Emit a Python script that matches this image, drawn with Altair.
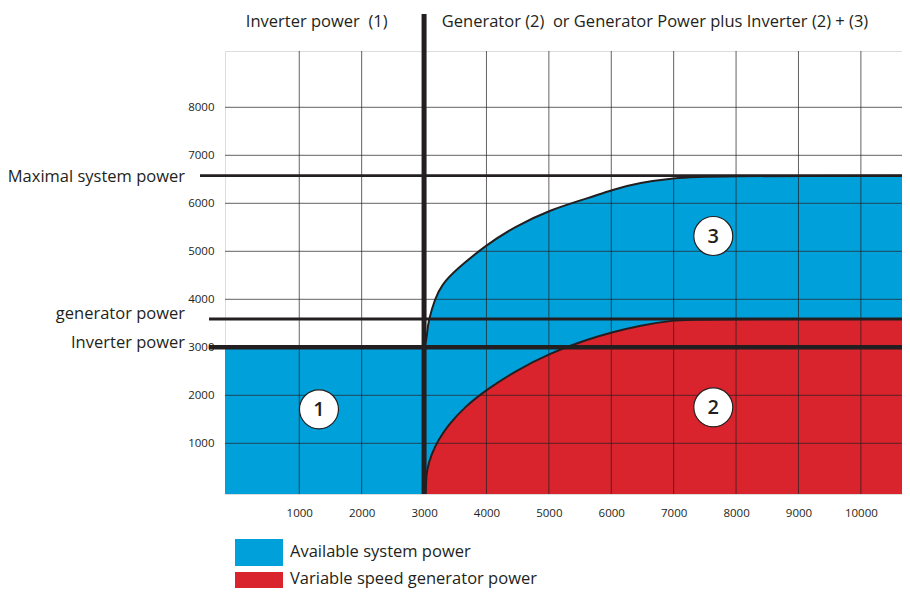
import altair as alt
import pandas as pd

# ---------------- data ----------------
x_ticks = [1000, 2000, 3000, 4000, 5000, 6000, 7000, 8000, 9000, 10000]
y_ticks = [1000, 2000, 3000, 4000, 5000, 6000, 7000, 8000]

# Variable speed generator power (red area, curve 2)
red_x = [3025, 3032, 3041, 3122, 3228, 3388, 3655, 4003, 4457, 5006, 5659, 6006, 6460, 6994, 7400, 11000]
red_y = [-56, 170, 443, 791, 1069, 1381, 1763, 2120, 2500, 2875, 3180, 3310, 3455, 3565, 3590, 3590]

# Available system power (blue area, inverter (1) + curve 3)
blue_x = [-500, 2900, 3025, 3051, 3067, 3175, 3282, 3495, 4003, 4457, 5006, 5659, 6006, 6460, 6994, 7529, 11000]
blue_y = [3000, 3000, 3000, 3325, 3533, 4021, 4298, 4600, 5140, 5513, 5860, 6120, 6280, 6430, 6525, 6570, 6575]

inverter_power = 3000
generator_power = 3590
max_power = 6575
inverter_x = 3000

circle_labels = ["1", "2", "3"]
circle_x = [1316, 7635, 7635]
circle_y = [1708, 1750, 5319]

legend_labels = ["Available system power", "Variable speed generator power"]
title_left = "Inverter power \u00a0(1)"
title_right = "Generator (2) \u00a0or Generator Power plus Inverter (2) + (3)"
level_labels = ["Maximal system power", "generator power", "Inverter power"]

# ---------------- layout / style ----------------
X_DOMAIN = [-190, 10659]
Y_DOMAIN = [-56, 9173]
W, H = 677, 443
BLUE = "#00A1DB"
RED = "#D9232D"
INK = "#231F20"
FONT = "Open Sans"
FS = 16.5

xs = alt.Scale(domain=X_DOMAIN, nice=False, zero=False)
ys = alt.Scale(domain=Y_DOMAIN, nice=False, zero=False)
x_axis = alt.Axis(values=x_ticks, format="d", grid=False, ticks=False, domain=False, title=None,
                  labelFont=FONT, labelFontSize=11.5, labelColor=INK, labelPadding=13)
y_axis = alt.Axis(values=y_ticks, format="d", grid=False, ticks=False, domain=False, title=None,
                  labelFont=FONT, labelFontSize=11.5, labelColor=INK, labelPadding=11)


def X(f):
    return alt.X(f"{f}:Q", scale=xs, axis=x_axis)


def Y(f):
    return alt.Y(f"{f}:Q", scale=ys, axis=y_axis)


blue_df = pd.DataFrame({"x": blue_x, "y": blue_y})
red_df = pd.DataFrame({"x": red_x, "y": red_y})
one = pd.DataFrame({"a": [0]})
INTERP = "basis"

blue_area = alt.Chart(blue_df).mark_area(color=BLUE, interpolate=INTERP, clip=True).encode(
    x=X("x"), y=Y("y"), y2=alt.datum(Y_DOMAIN[0]))
red_area = alt.Chart(red_df).mark_area(color=RED, interpolate=INTERP, clip=True).encode(
    x=X("x"), y=Y("y"), y2=alt.datum(Y_DOMAIN[0]))

vgrid = alt.Chart(pd.DataFrame({"x": x_ticks})).mark_rule(color=INK, strokeWidth=1, opacity=0.7).encode(x=X("x"))
hgrid = alt.Chart(pd.DataFrame({"y": y_ticks})).mark_rule(color=INK, strokeWidth=1, opacity=0.7).encode(y=Y("y"))

blue_line = alt.Chart(blue_df[blue_df.x >= 2900]).mark_line(color=INK, strokeWidth=2, interpolate=INTERP, clip=True).encode(
    x=X("x"), y=Y("y"))
red_line = alt.Chart(red_df).mark_line(color=INK, strokeWidth=2, interpolate=INTERP, clip=True).encode(
    x=X("x"), y=Y("y"))

max_line = alt.Chart(pd.DataFrame({"y": [max_power]})).mark_rule(color=INK, strokeWidth=2.7).encode(
    y=Y("y"), x=alt.value(-25), x2=alt.value(W))
gen_line = alt.Chart(pd.DataFrame({"y": [generator_power]})).mark_rule(color=INK, strokeWidth=3).encode(
    y=Y("y"), x=alt.value(-16), x2=alt.value(W))
inv_line = alt.Chart(pd.DataFrame({"y": [inverter_power]})).mark_rule(color=INK, strokeWidth=4.6).encode(
    y=Y("y"), x=alt.value(-16), x2=alt.value(W))
v_line = alt.Chart(pd.DataFrame({"x": [inverter_x]})).mark_rule(color=INK, strokeWidth=5).encode(
    x=X("x"), y=alt.value(-37), y2=alt.value(H))

circ_df = pd.DataFrame({"x": circle_x, "y": circle_y, "t": circle_labels})
circles = alt.Chart(circ_df).mark_point(shape="circle", filled=True, color="white", stroke=INK,
                                       strokeWidth=1.2, size=1521, opacity=1).encode(x=X("x"), y=Y("y"))
circle_text = alt.Chart(circ_df).mark_text(font=FONT, fontSize=20, fontWeight=600, color=INK,
                                           baseline="middle", dy=1).encode(
    x=X("x"), y=Y("y"), text="t:N")

lvl_max = alt.Chart(pd.DataFrame({"y": [max_power]})).mark_text(
    text=level_labels[0], font=FONT, fontSize=FS, color=INK, align="right", baseline="middle", dy=1).encode(
    y=Y("y"), x=alt.value(-40))
lvl_gen = alt.Chart(pd.DataFrame({"y": [generator_power]})).mark_text(
    text=level_labels[1], font=FONT, fontSize=FS, color=INK, align="right", baseline="middle", dy=-5).encode(
    y=Y("y"), x=alt.value(-40))
lvl_inv = alt.Chart(pd.DataFrame({"y": [inverter_power]})).mark_text(
    text=level_labels[2], font=FONT, fontSize=FS, color=INK, align="right", baseline="middle", dy=-4).encode(
    y=Y("y"), x=alt.value(-40))

t_left = alt.Chart(one).mark_text(text=title_left, font=FONT, fontSize=FS, color=INK, align="center",
                                  baseline="middle").encode(x=alt.value(91.7), y=alt.value(-29))
t_right = alt.Chart(one).mark_text(text=title_right, font=FONT, fontSize=FS, color=INK, align="center",
                                   baseline="middle").encode(x=alt.value(430), y=alt.value(-29))

leg_blue = alt.Chart(one).mark_rect(color=BLUE).encode(
    x=alt.value(10), x2=alt.value(58), y=alt.value(488), y2=alt.value(515))
leg_red = alt.Chart(one).mark_rect(color=RED).encode(
    x=alt.value(10), x2=alt.value(58), y=alt.value(521), y2=alt.value(545))
leg_t1 = alt.Chart(one).mark_text(text=legend_labels[0], font=FONT, fontSize=FS, color=INK, align="left",
                                  baseline="middle").encode(x=alt.value(65), y=alt.value(501))
leg_t2 = alt.Chart(one).mark_text(text=legend_labels[1], font=FONT, fontSize=FS, color=INK, align="left",
                                  baseline="middle").encode(x=alt.value(65), y=alt.value(528))

chart = alt.layer(
    blue_area, red_area, vgrid, hgrid, blue_line, red_line,
    max_line, gen_line, inv_line, v_line,
    circles, circle_text, lvl_max, lvl_gen, lvl_inv, t_left, t_right,
    leg_blue, leg_red, leg_t1, leg_t2,
).properties(
    width=W, height=H,
    padding={"left": 217, "top": 43, "right": 0, "bottom": 94},
    autosize=alt.AutoSizeParams(type="none"),
).configure_view(stroke=INK, strokeWidth=1.5).configure(font=FONT)

chart.save("out.html", embed_options={"renderer": "svg", "actions": False})
